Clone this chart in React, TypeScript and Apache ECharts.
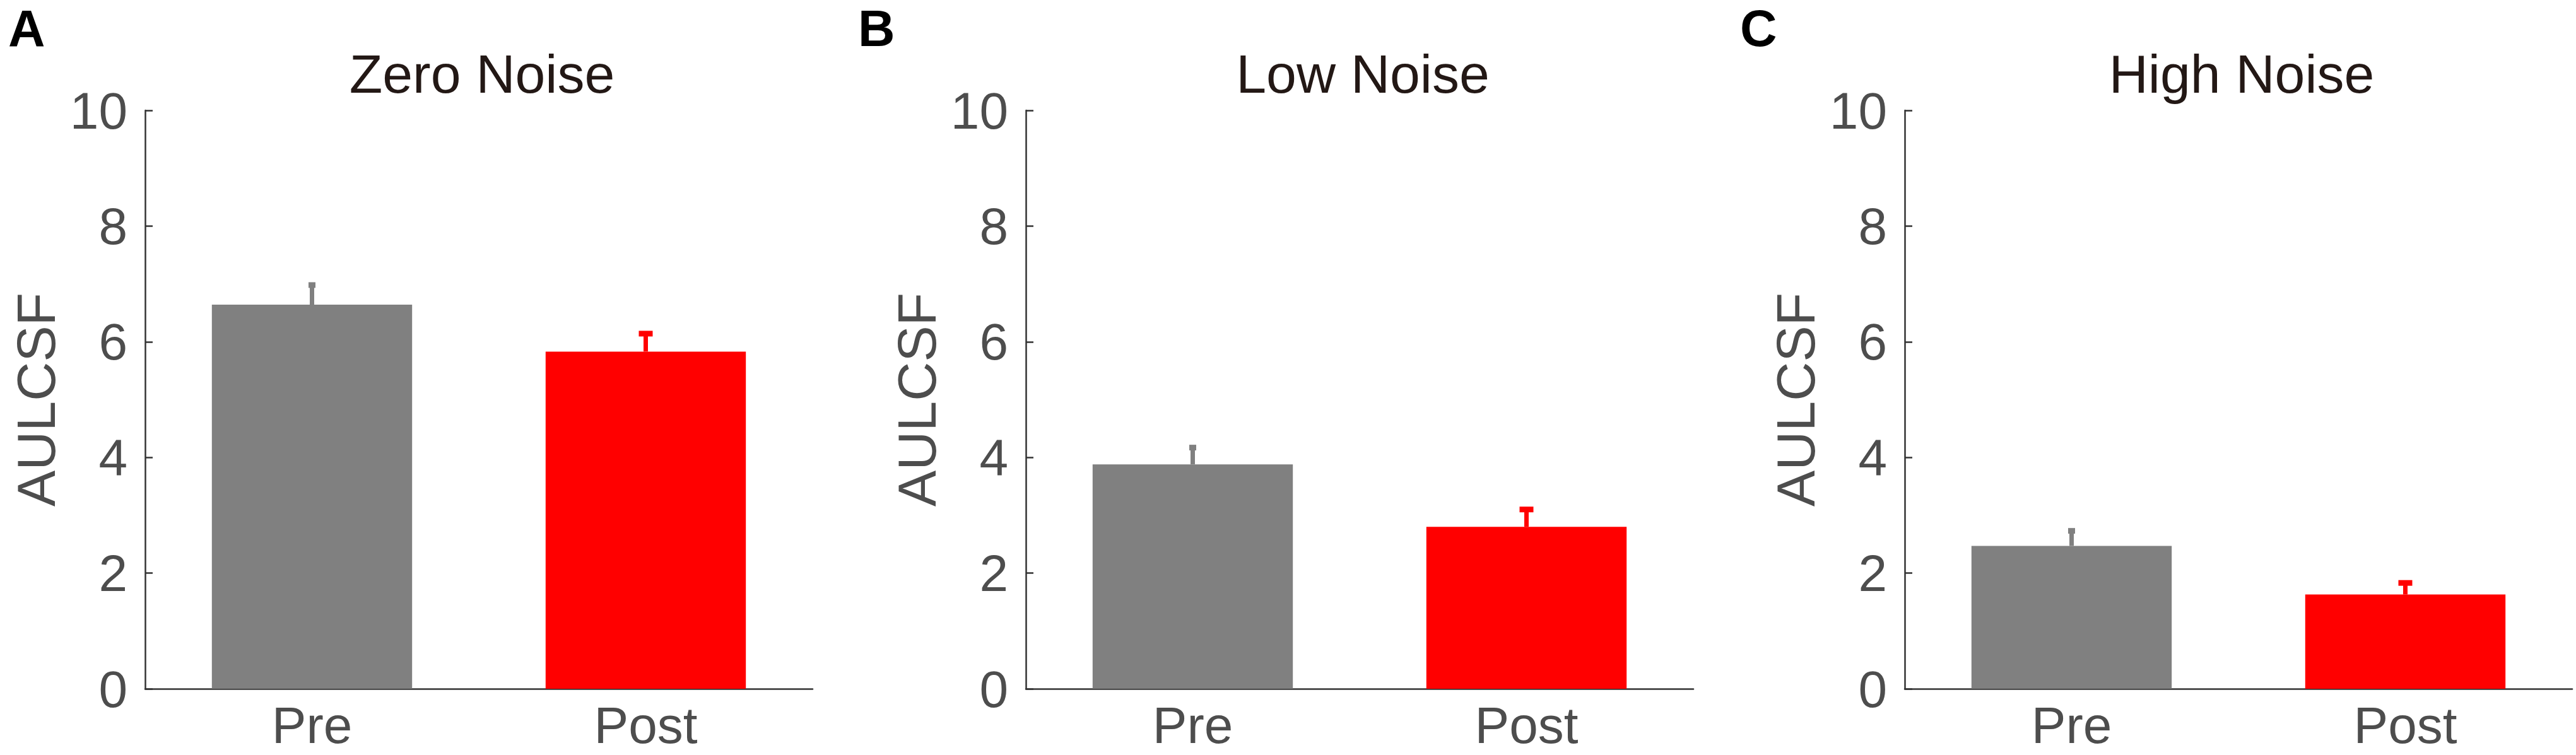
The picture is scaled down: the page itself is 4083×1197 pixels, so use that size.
import React, { useEffect, useRef } from "react";
import * as echarts from "echarts";

const categories = ["Pre", "Post"];
const panelTitles = ["Zero Noise", "Low Noise", "High Noise"];
const panelLetters = ["A", "B", "C"];
const preMeans = [6.64, 3.88, 2.47];
const postMeans = [5.83, 2.8, 1.63];
const preErrTop = [6.98, 4.17, 2.73];
const postErrTop = [6.14, 3.1, 1.83];
const yMin = 0;
const yMax = 10;
const yInterval = 2;
const axisName = "AULCSF";

const barColors = ["#808080", "#ff0000"];
const FONT = "'Liberation Sans', Arial, Helvetica, sans-serif";

const gridLefts = [230, 1626, 3019];
const gridWidth = 1058;
const gridTop = 175;
const gridHeight = 917;
const letterXs = [13, 1360, 2758];

export default function App() {
  const ref = useRef<HTMLDivElement>(null);
  useEffect(() => {
    if (!ref.current) return;
    const chart = echarts.init(ref.current, undefined, { renderer: "svg" });
    const grids: any[] = [];
    const xAxes: any[] = [];
    const yAxes: any[] = [];
    const series: any[] = [];
    const titles: any[] = [];
    const graphics: any[] = [];
    for (let i = 0; i < 3; i++) {
      grids.push({
        left: gridLefts[i],
        top: gridTop,
        width: gridWidth,
        height: gridHeight,
        containLabel: false,
        outerBoundsMode: "none",
      });
      xAxes.push({
        type: "category",
        gridIndex: i,
        data: categories,
        boundaryGap: true,
        axisLine: { show: true, lineStyle: { color: "#333333", width: 2.5 } },
        axisTick: { show: false },
        axisLabel: {
          fontSize: 82,
          lineHeight: 60,
          color: "#4d4d4d",
          margin: 27,
          fontFamily: FONT,
        },
        splitLine: { show: false },
      });
      yAxes.push({
        type: "value",
        gridIndex: i,
        min: yMin,
        max: yMax,
        interval: yInterval,
        axisLine: { show: true, lineStyle: { color: "#333333", width: 2.5 } },
        axisTick: { show: true, inside: true, length: 12, lineStyle: { color: "#333333", width: 2.5 } },
        axisLabel: { fontSize: 82, color: "#4d4d4d", margin: 28, fontFamily: FONT },
        splitLine: { show: false },
        name: axisName,
        nameLocation: "middle",
        nameGap: 130,
        nameTextStyle: { fontSize: 86, color: "#4d4d4d", fontFamily: FONT },
      });
      series.push({
        type: "bar",
        xAxisIndex: i,
        yAxisIndex: i,
        barWidth: "60%",
        z: 2,
        data: [preMeans[i], postMeans[i]].map((v, k) => ({
          value: v,
          itemStyle: { color: barColors[k] },
        })),
      });
      series.push({
        type: "custom",
        xAxisIndex: i,
        yAxisIndex: i,
        z: 3,
        encode: { x: 0, y: 2 },
        data: [
          [0, preMeans[i], preErrTop[i]],
          [1, postMeans[i], postErrTop[i]],
        ],
        renderItem: (params: any, api: any) => {
          const idx = api.value(0);
          const base = api.coord([idx, api.value(1)]);
          const top = api.coord([idx, api.value(2)]);
          const color = barColors[params.dataIndex];
          const capW = params.dataIndex === 0 ? 11 : 22;
          return {
            type: "group",
            children: [
              {
                type: "line",
                shape: { x1: base[0], y1: base[1], x2: top[0], y2: top[1] },
                style: { stroke: color, lineWidth: 7 },
              },
              {
                type: "rect",
                shape: { x: top[0] - capW / 2, y: top[1] - 4.5, width: capW, height: 9 },
                style: { fill: color },
              },
            ],
          };
        },
      });
      titles.push({
        text: panelTitles[i],
        left: gridLefts[i] + gridWidth / 2,
        top: 69,
        textAlign: "center",
        textStyle: { fontSize: 86, fontWeight: "normal", color: "#231815", fontFamily: FONT },
      });
      graphics.push({
        type: "text",
        x: letterXs[i],
        y: 45,
        style: {
          text: panelLetters[i],
          font: `bold 81px ${FONT}`,
          lineHeight: 60,
          fill: "#000000",
          verticalAlign: "middle",
          align: "left",
        },
      });
    }
    chart.setOption({
      animation: false,
      backgroundColor: "#ffffff",
      title: titles,
      grid: grids,
      xAxis: xAxes,
      yAxis: yAxes,
      series,
      graphic: graphics,
    });
    return () => chart.dispose();
  }, []);
  return (
    <div
      ref={ref}
      style={{ position: "fixed", left: 0, top: 0, width: 4083, height: 1197, background: "#fff" }}
    />
  );
}
